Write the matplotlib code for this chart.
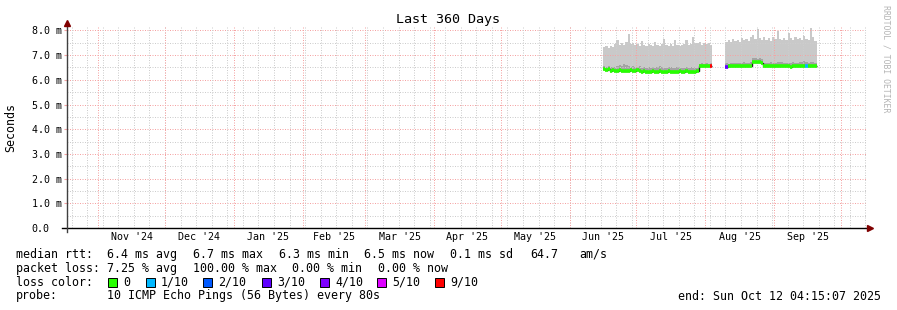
import numpy as np
import pandas as pd
import matplotlib
matplotlib.use("Agg")
import matplotlib.pyplot as plt
import matplotlib.dates as mdates
from matplotlib.patches import Rectangle

# ---------------- data ----------------
end_time = pd.Timestamp("2025-10-12 04:15:07")
start_time = end_time - pd.Timedelta(days=360)

# first block of measurements (one value per day)
p1_start = "2025-06-16"
p1_median = [6.42, 6.38, 6.43, 6.37, 6.40,
             6.37, 6.36, 6.38, 6.36, 6.37, 6.35, 6.37, 6.38, 6.36, 6.37, 6.38, 6.36,
             6.33, 6.34, 6.32, 6.33, 6.33, 6.34, 6.32, 6.33, 6.34, 6.33, 6.32, 6.33, 6.34,
             6.33, 6.32, 6.33, 6.33, 6.34, 6.32, 6.33, 6.34, 6.33, 6.32, 6.33, 6.33, 6.34,
             6.54, 6.55, 6.55, 6.54, 6.55, 6.55]
p1_dark = [6.55, 6.52, 6.56, 6.50, 6.53,
           6.52, 6.55, 6.60, 6.58, 6.64, 6.62, 6.55, 6.52, 6.54, 6.50, 6.52, 6.55,
           6.48, 6.50, 6.47, 6.52, 6.49, 6.50, 6.48, 6.51, 6.55, 6.50, 6.47, 6.49, 6.52,
           6.50, 6.48, 6.47, 6.50, 6.52, 6.49, 6.47, 6.50, 6.48, 6.51, 6.49, 6.50, 6.48,
           6.66, 6.68, 6.65, 6.67, 6.66, 6.68]
p1_top = [7.32, 7.35, 7.30, 7.38, 7.34, 7.45, 7.60, 7.40, 7.48, 7.42, 7.55, 7.85,
          7.46, 7.50, 7.40, 7.44, 7.38, 7.58, 7.42, 7.36, 7.45, 7.40, 7.35, 7.54,
          7.42, 7.38, 7.46, 7.64, 7.40, 7.36, 7.44, 7.38, 7.60, 7.42, 7.35, 7.40,
          7.46, 7.62, 7.40, 7.44, 7.75, 7.48, 7.50, 7.55, 7.42, 7.50, 7.45, 7.48, 7.40]
p1_loss = [0] * 48 + [9]

# second block
p2_start = "2025-08-10"
p2_median = [6.53, 6.55, 6.56, 6.55, 6.54, 6.55, 6.56, 6.55, 6.54, 6.55, 6.55, 6.56,
             6.72, 6.74, 6.73, 6.72, 6.70,
             6.55, 6.54, 6.55, 6.56, 6.55, 6.54, 6.55, 6.56, 6.57, 6.56, 6.55, 6.54,
             6.53, 6.55, 6.56, 6.55, 6.54, 6.56, 6.55, 6.57, 6.56, 6.55, 6.56, 6.55]
p2_dark = [6.68, 6.66, 6.70, 6.69, 6.67, 6.70, 6.68, 6.69, 6.71, 6.68, 6.70, 6.72,
           6.88, 6.90, 6.86, 6.87, 6.84,
           6.70, 6.68, 6.69, 6.72, 6.70, 6.68, 6.71, 6.74, 6.72, 6.70, 6.69, 6.68,
           6.70, 6.72, 6.70, 6.68, 6.71, 6.73, 6.75, 6.72, 6.70, 6.71, 6.72, 6.70]
p2_top = [7.52, 7.60, 7.55, 7.65, 7.58, 7.62, 7.55, 7.70, 7.60, 7.66, 7.58, 7.72,
          7.80, 7.65, 8.04, 7.70, 7.62, 7.75, 7.60, 7.68, 7.58, 7.72, 7.64, 7.99,
          7.66, 7.60, 7.70, 7.62, 7.91, 7.68, 7.60, 7.74, 7.64, 7.70, 7.62, 7.78,
          7.66, 7.60, 8.08, 7.72, 7.58]
p2_loss = [3] + [0] * 35 + [1] + [0] * 4

y_ticks = [0, 1, 2, 3, 4, 5, 6, 7, 8]
y_labels = ["0.0", "1.0 m", "2.0 m", "3.0 m", "4.0 m", "5.0 m", "6.0 m", "7.0 m", "8.0 m"]
month_labels = ["Nov '24", "Dec '24", "Jan '25", "Feb '25", "Mar '25", "Apr '25",
                "May '25", "Jun '25", "Jul '25", "Aug '25", "Sep '25"]

loss_names = ["0", "1/10", "2/10", "3/10", "4/10", "5/10", "9/10"]
loss_levels = [0, 1, 2, 3, 4, 5, 9]
loss_colors = ["#26ff00", "#00b8ff", "#0059ff", "#5e00ff", "#7e00ff", "#dd00ff", "#ff0000"]
loss_col = dict(zip(loss_levels, loss_colors))

# ---------------- figure ----------------
W, H = 897, 310
plt.rcParams["font.family"] = "DejaVu Sans Mono"
fig = plt.figure(figsize=(W / 100, H / 100), dpi=100)


def fx(px):
    return px / W


def fy(py):
    return 1 - py / H


ax = fig.add_axes([fx(67), fy(228), (867 - 67) / W, (228 - 26) / H])
x0 = start_time + pd.Timedelta(hours=18)
x1 = end_time + pd.Timedelta(hours=12)
ax.set_xlim(mdates.date2num(x0), mdates.date2num(x1))
ax.set_ylim(0, 8.18)

smoke_light = "#c9c9c9"
smoke_dark = "#a3a3a3"
minor_c = "#cdcdcd"
major_c = "#f5a3a3"
dots = (0, (1, 1.5))

for start, med, dark, top, loss in [(p1_start, p1_median, p1_dark, p1_top, p1_loss),
                                    (p2_start, p2_median, p2_dark, p2_top, p2_loss)]:
    days = pd.date_range(start, periods=len(med), freq="D")
    edges = mdates.date2num(days.append(days[-1:] + pd.Timedelta(days=1)))
    med = np.array(med)
    ax.stairs(top, edges, baseline=med, fill=True, color=smoke_light, zorder=1)
    ax.stairs(dark, edges, baseline=med, fill=True, color=smoke_dark, zorder=1.5)
    ax.stairs(med, edges, baseline=None, color="#202020", lw=1.0, zorder=3)
    ax.hlines(med, edges[:-1], edges[1:], colors=[loss_col[l] for l in loss],
              lw=2.6, zorder=3.5)

# grid
ax.set_yticks(y_ticks, y_labels)
ax.set_yticks(np.arange(0.5, 8.5, 1), minor=True)
ax.grid(axis="y", which="major", color=major_c, lw=0.72, ls=dots, zorder=2.5)
ax.grid(axis="y", which="minor", color=minor_c, lw=0.72, ls=dots, zorder=2.5)

weeks = pd.date_range("2024-10-20", end_time, freq="7D")
months = pd.date_range("2024-11-01", end_time, freq="MS")
ax.vlines(mdates.date2num(weeks), 0, 1, transform=ax.get_xaxis_transform(),
          color=minor_c, lw=0.72, ls=dots, zorder=2.5)
ax.vlines(mdates.date2num(months), 0, 1, transform=ax.get_xaxis_transform(),
          color=major_c, lw=0.72, ls=dots, zorder=2.6)

m_num = mdates.date2num(months)
mid = (m_num[:-1] + m_num[1:]) / 2
ax.set_xticks(mid, month_labels)

for s in ax.spines.values():
    s.set_visible(False)
ax.tick_params(axis="x", length=0, pad=3, labelsize=7.2)
ax.tick_params(axis="y", which="major", length=2.2, color=major_c, pad=23.3, labelsize=7.2)
ax.tick_params(axis="y", which="minor", length=0)
for t in ax.get_yticklabels():
    t.set_horizontalalignment("left")

# axes with arrows
ax.plot([-0.006, 1.002], [0, 0], transform=ax.transAxes, color="black", lw=1,
        clip_on=False, zorder=5)
ax.plot([0, 0], [-0.02, 1.01], transform=ax.transAxes, color="#404040", lw=1,
        clip_on=False, zorder=5)
ax.plot([1.004], [0], transform=ax.transAxes, marker=">", ms=4, color="#800000",
        clip_on=False, zorder=6)
ax.plot([0], [1.015], transform=ax.transAxes, marker="^", ms=4, color="#800000",
        clip_on=False, zorder=6)

# texts
fig.text(fx(448), fy(19), "Last 360 Days", ha="center", va="center", fontsize=9.6)
fig.text(fx(11), fy(127), "Seconds", rotation=90, ha="center", va="center", fontsize=8.4)
fig.text(fx(886), fy(5), "RRDTOOL / TOBI OETIKER", rotation=270, ha="center", va="top",
         fontsize=5.9, color="#b4b4b4")

lg = 8.4
rows = [254.3, 268.3, 282.3, 296]
line1 = [(16, "median rtt:"), (107, "6.4 ms avg"), (193, "6.7 ms max"), (279, "6.3 ms min"),
         (364, "6.5 ms now"), (450, "0.1 ms sd"), (530, "64.7"), (579, "am/s")]
line2 = [(16, "packet loss:"), (107, "7.25 % avg"), (193, "100.00 % max"),
         (292, "0.00 % min"), (378, "0.00 % now")]
for x, s in line1:
    fig.text(fx(x), fy(rows[0]), s, ha="left", va="center", fontsize=lg)
for x, s in line2:
    fig.text(fx(x), fy(rows[1]), s, ha="left", va="center", fontsize=lg)

fig.text(fx(16), fy(rows[2]), "loss color:", ha="left", va="center", fontsize=lg)
box_x = [108, 146, 203, 262, 320, 377, 435]
for bx, name, c in zip(box_x, loss_names, loss_colors):
    fig.patches.append(Rectangle((fx(bx), fy(286.5)), 9 / W, 9 / H, transform=fig.transFigure,
                                 facecolor=c, edgecolor="black", lw=0.7))
    fig.text(fx(bx + 15), fy(rows[2]), name, ha="left", va="center", fontsize=lg)

fig.text(fx(16), fy(rows[3]), "probe:", ha="left", va="center", fontsize=lg)
fig.text(fx(107), fy(rows[3]), "10 ICMP Echo Pings (56 Bytes) every 80s", ha="left",
         va="center", fontsize=lg)
fig.text(fx(881), fy(rows[3]), "end: Sun Oct 12 04:15:07 2025", ha="right", va="center",
         fontsize=lg)

fig.savefig("out.png", dpi=100)
